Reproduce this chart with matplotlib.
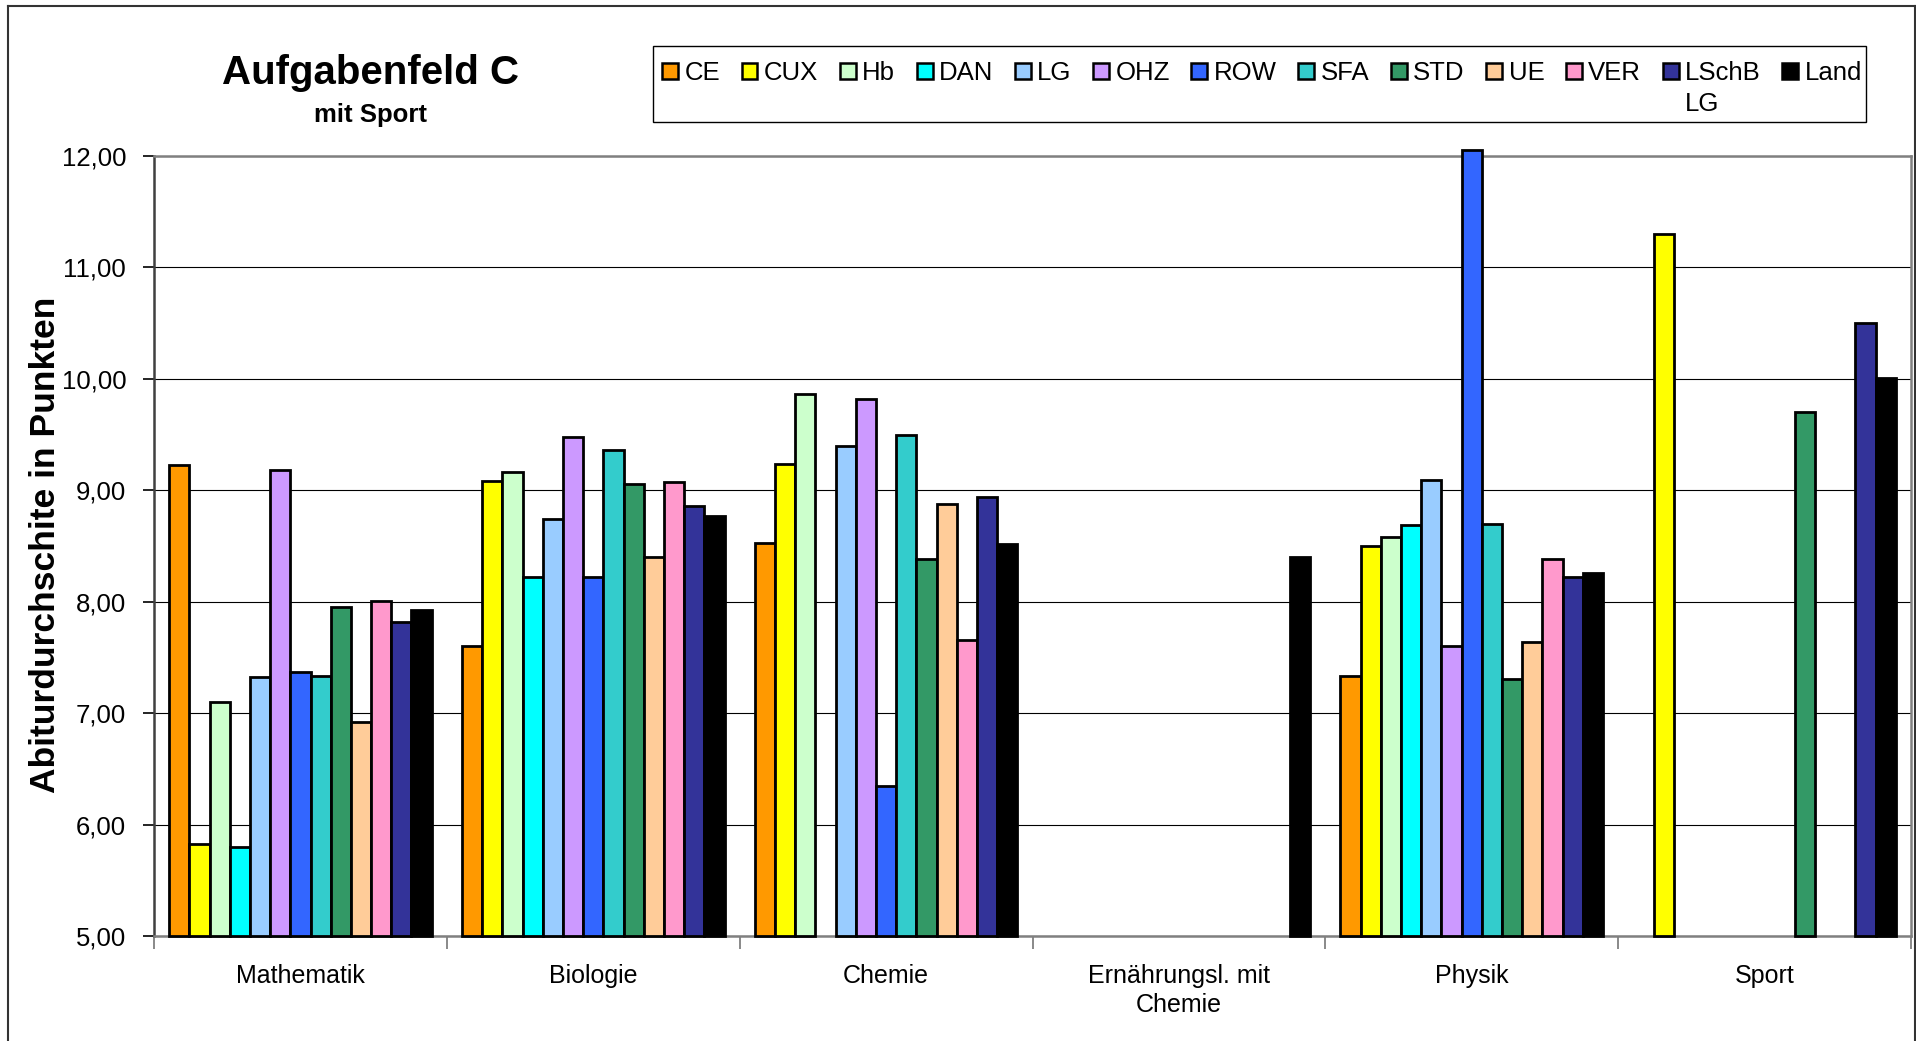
import numpy as np
import matplotlib
matplotlib.use("Agg")
import matplotlib.pyplot as plt
from matplotlib.patches import Rectangle
from matplotlib.lines import Line2D

plt.rcParams['font.family'] = ['Liberation Sans', 'DejaVu Sans']

# ---------------- data ----------------
categories = ["Mathematik", "Biologie", "Chemie", "Ernährungsl. mit\nChemie", "Physik", "Sport"]
series_names = ["CE", "CUX", "Hb", "DAN", "LG", "OHZ", "ROW", "SFA", "STD", "UE", "VER", "LSchB\nLG", "Land"]
nan = np.nan
CE = [9.23, 7.60, 8.53, nan, 7.33, nan]
CUX = [5.83, 9.08, 9.24, nan, 8.50, 11.30]
Hb = [7.10, 9.16, 9.86, nan, 8.58, nan]
DAN = [5.80, 8.22, nan, nan, 8.69, nan]
LG = [7.32, 8.74, 9.40, nan, 9.09, nan]
OHZ = [9.18, 9.48, 9.82, nan, 7.60, nan]
ROW = [7.37, 8.22, 6.35, nan, 12.05, nan]
SFA = [7.33, 9.36, 9.50, nan, 8.70, nan]
STD = [7.95, 9.06, 8.38, nan, 7.31, 9.70]
UE = [6.92, 8.40, 8.88, nan, 7.64, nan]
VER = [8.01, 9.07, 7.66, nan, 8.38, nan]
LSchB_LG = [7.82, 8.86, 8.94, nan, 8.22, 10.50]
Land = [7.93, 8.77, 8.52, 8.40, 8.26, 10.01]
series_values = [CE, CUX, Hb, DAN, LG, OHZ, ROW, SFA, STD, UE, VER, LSchB_LG, Land]
colors = ["#FF9900", "#FFFF00", "#CCFFCC", "#00FFFF", "#99CCFF", "#CC99FF", "#3366FF",
          "#33CCCC", "#339966", "#FFCC99", "#FF99CC", "#333399", "#000000"]
yticks = [5, 6, 7, 8, 9, 10, 11, 12]
ytick_labels = ["5,00", "6,00", "7,00", "8,00", "9,00", "10,00", "11,00", "12,00"]
title = "Aufgabenfeld C"
subtitle = "mit Sport"
ylabel = "Abiturdurchschite in Punkten"

# ---------------- figure ----------------
W, H = 1916, 1041
fig = plt.figure(figsize=(W / 100, H / 100), dpi=100)
fig.patch.set_facecolor("white")

ax = fig.add_axes([154 / W, 1 - 936 / H, (1911 - 154) / W, (936 - 156) / H])
ymin = yticks[0]
n = len(series_names)
bw = 1.0 / (n + 1.5)
x = np.arange(len(categories))
handles = []
for i, (vals, c) in enumerate(zip(series_values, colors)):
    v = np.array(vals, dtype=float)
    bars = ax.bar(x + (i - (n - 1) / 2) * bw, v - ymin, bottom=ymin, width=bw,
                  color=c, edgecolor="black", linewidth=2.0, zorder=3, clip_on=False)
    handles.append(bars)

ax.set_xlim(-0.5, len(categories) - 0.5)
ax.set_ylim(yticks[0], yticks[-1])
ax.set_yticks(yticks)
ax.set_yticklabels(ytick_labels, fontsize=18.5)
ax.yaxis.grid(True, color="#000000", linewidth=0.8, zorder=0)
ax.set_axisbelow(True)

ax.set_xticks(np.arange(len(categories) + 1) - 0.5)
ax.set_xticklabels([])
ax.set_xticks(x, minor=True)
ax.set_xticklabels(categories, minor=True, fontsize=18, linespacing=1.3)
ax.tick_params(axis="x", which="major", length=9, width=1.3, color="#808080", direction="out")
ax.tick_params(axis="x", which="minor", length=0, pad=20)
ax.tick_params(axis="y", length=8, width=1.2, color="#000000", pad=12, direction="out")

for s in ["top", "right", "bottom"]:
    ax.spines[s].set_color("#808080")
    ax.spines[s].set_linewidth(1.8)
ax.spines["left"].set_color("#404040")
ax.spines["left"].set_linewidth(1.8)

# titles
fig.text(370 / W, 1 - 73 / H, title, fontsize=29, fontweight="bold", ha="center", va="center")
fig.text(370 / W, 1 - 115 / H, subtitle, fontsize=18.5, fontweight="bold", ha="center", va="center")
fig.text(46 / W, 1 - 545 / H, ylabel, fontsize=25.5, fontweight="bold", rotation=90,
         ha="center", va="center")

# legend
first_lines = [s.split("\n")[0] for s in series_names]
leg = fig.legend(handles, first_lines, loc="center", mode="expand", ncol=n,
                 bbox_to_anchor=(662 / W, 1 - 83 / H, (1862 - 662) / W, 20 / H),
                 bbox_transform=fig.transFigure, frameon=False, fontsize=18.5,
                 handlelength=0.62, handleheight=0.62, handletextpad=0.25,
                 columnspacing=0.7, borderpad=0, borderaxespad=0)
for p in leg.get_patches():
    p.set_linewidth(1.8)
fig.patches.append(Rectangle((653 / W, 1 - 122 / H), (1866 - 653) / W, (122 - 46) / H,
                             transform=fig.transFigure, fill=False, edgecolor="black",
                             linewidth=1.0))

# outer chart frame
for xs, ys in [([8, 8], [6, H + 5]), ([8, 1915], [6, 6]), ([1915, 1915], [6, H + 5])]:
    fig.lines.append(Line2D([v / W for v in xs], [1 - v / H for v in ys],
                            transform=fig.transFigure, color="#333333", linewidth=1.5))

# extra lines of multi-line legend labels
fig.canvas.draw()
renderer = fig.canvas.get_renderer()
for t, name in zip(leg.get_texts(), series_names):
    extra = name.split("\n")[1:]
    if extra:
        bb = t.get_window_extent(renderer)
        fig.text(bb.x0 / W, (bb.y0 - 7) / H, "\n".join(extra), fontsize=18.5,
                 ha="left", va="top")

fig.savefig("out.png", dpi=100)
